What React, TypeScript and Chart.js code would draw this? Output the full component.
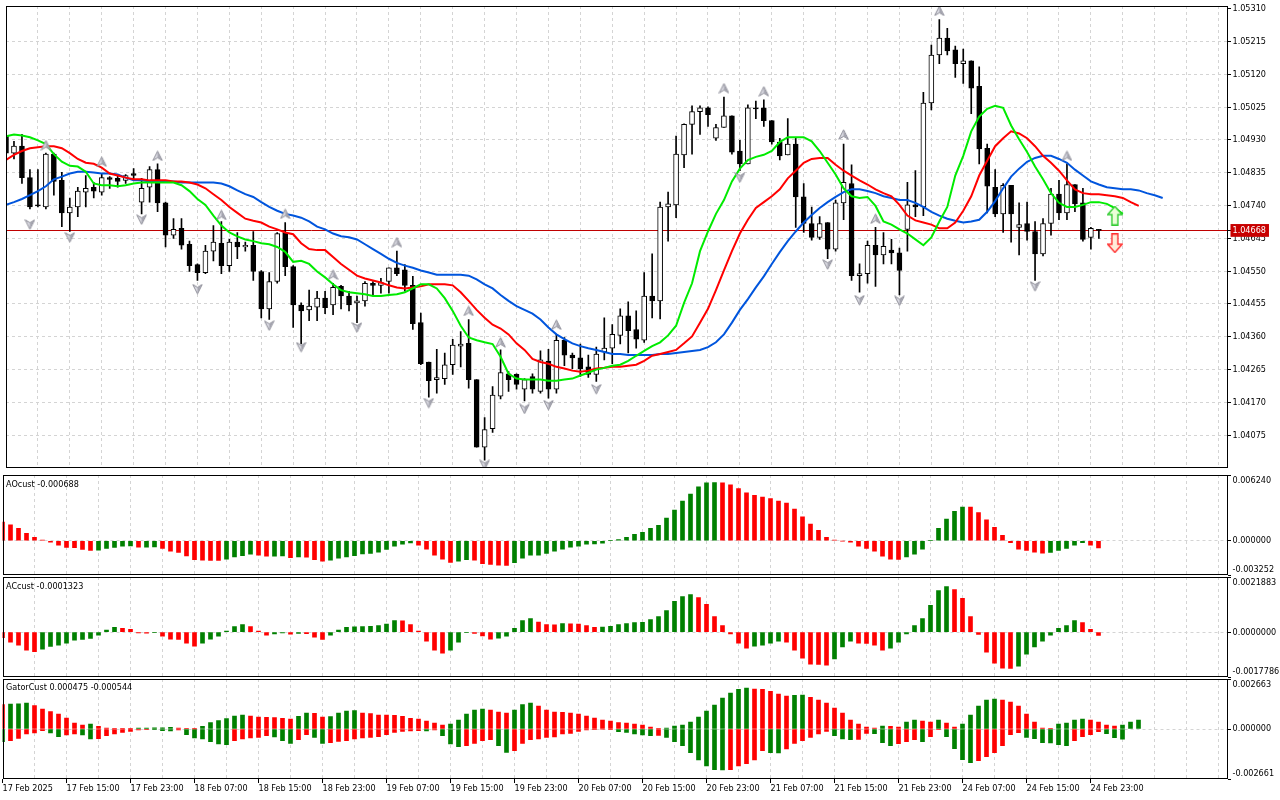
import React, { useEffect, useRef } from 'react';
import { Chart, registerables } from 'chart.js';
Chart.register(...registerables);

// ---------- data ----------
const X_LABELS = ['17 Feb 2025', '17 Feb 15:00', '17 Feb 23:00', '18 Feb 07:00', '18 Feb 15:00', '18 Feb 23:00',
  '19 Feb 07:00', '19 Feb 15:00', '19 Feb 23:00', '20 Feb 07:00', '20 Feb 15:00', '20 Feb 23:00',
  '21 Feb 07:00', '21 Feb 15:00', '21 Feb 23:00', '24 Feb 07:00', '24 Feb 15:00', '24 Feb 23:00'];

const PRICE_TICKS = [1.05310, 1.05215, 1.05120, 1.05025, 1.04930, 1.04835, 1.04740, 1.04645, 1.04550, 1.04455, 1.04360, 1.04265, 1.04170, 1.04075];
const BID = 1.04668;

const OPEN = [1.04941,1.04892,1.04912,1.04821,1.04742,1.04736,1.04889,1.04813,1.04719,1.04736,
1.04779,1.04793,1.04779,1.04821,1.04819,1.04813,1.04833,1.04750,1.04793,1.04844,
1.04748,1.04654,1.04674,1.04628,1.04569,1.04546,1.04608,1.04631,1.04566,1.04634,
1.04620,1.04625,1.04549,1.04441,1.04520,1.04662,1.04563,1.04452,1.04438,1.04446,
1.04472,1.04452,1.04506,1.04478,1.04458,1.04464,1.04515,1.04509,1.04520,1.04560,
1.04554,1.04509,1.04401,1.04287,1.04236,1.04239,1.04279,1.04333,1.04341,1.04236,
1.04040,1.04094,1.04188,1.04253,1.04251,1.04208,1.04245,1.04202,1.04290,1.04208,
1.04350,1.04307,1.04299,1.04273,1.04251,1.04316,1.04327,1.04364,1.04421,1.04381,
1.04350,1.04478,1.04464,1.04736,1.04742,1.04887,1.04975,1.05012,1.05023,1.04935,
1.04966,1.05000,1.04898,1.04861,1.05023,1.05023,1.04986,1.04924,1.04887,1.04918,
1.04765,1.04688,1.04648,1.04691,1.04614,1.04748,1.04804,1.04537,1.04543,1.04625,
1.04597,1.04611,1.04603,1.04671,1.04742,1.04736,1.05037,1.05176,1.05225,1.05191,
1.05151,1.05159,1.05085,1.04906,1.04793,1.04716,1.04799,1.04677,1.04688,1.04665,
1.04600,1.04688,1.04773,1.04719,1.04801,1.04748,1.04648,1.04671];

const HIGH = [1.04955,1.04926,1.04946,1.04844,1.04844,1.04892,1.04892,1.04836,1.04762,1.04793,
1.04827,1.04807,1.04833,1.04824,1.04830,1.04830,1.04847,1.04819,1.04853,1.04861,
1.04750,1.04702,1.04702,1.04637,1.04571,1.04625,1.04682,1.04694,1.04642,1.04662,
1.04634,1.04665,1.04552,1.04546,1.04662,1.04691,1.04566,1.04458,1.04495,1.04492,
1.04492,1.04515,1.04509,1.04492,1.04478,1.04520,1.04520,1.04529,1.04560,1.04608,
1.04569,1.04535,1.04429,1.04287,1.04324,1.04313,1.04353,1.04375,1.04410,1.04236,
1.04126,1.04216,1.04322,1.04259,1.04253,1.04239,1.04253,1.04319,1.04324,1.04367,
1.04358,1.04313,1.04339,1.04307,1.04330,1.04415,1.04395,1.04441,1.04461,1.04435,
1.04546,1.04600,1.04750,1.04779,1.04941,1.04977,1.05029,1.05029,1.05026,1.04975,
1.05054,1.05000,1.04929,1.05032,1.05043,1.05046,1.04986,1.04935,1.04992,1.04938,
1.04804,1.04736,1.04708,1.04691,1.04756,1.04918,1.04858,1.04571,1.04637,1.04677,
1.04662,1.04642,1.04617,1.04807,1.04841,1.05068,1.05205,1.05279,1.05253,1.05202,
1.05193,1.05159,1.05142,1.04918,1.04844,1.04804,1.04799,1.04748,1.04750,1.04694,
1.04702,1.04790,1.04813,1.04861,1.04801,1.04790,1.04677,1.04671];

const LOW = [1.04875,1.04875,1.04804,1.04730,1.04736,1.04730,1.04770,1.04679,1.04665,1.04708,
1.04736,1.04762,1.04770,1.04790,1.04793,1.04804,1.04813,1.04716,1.04750,1.04722,
1.04620,1.04645,1.04614,1.04549,1.04523,1.04543,1.04580,1.04543,1.04549,1.04586,
1.04608,1.04523,1.04415,1.04410,1.04515,1.04537,1.04387,1.04339,1.04407,1.04407,
1.04427,1.04424,1.04441,1.04435,1.04401,1.04449,1.04478,1.04486,1.04486,1.04537,
1.04492,1.04381,1.04279,1.04185,1.04197,1.04222,1.04251,1.04273,1.04211,1.04040,
1.04003,1.04083,1.04180,1.04202,1.04208,1.04174,1.04197,1.04197,1.04182,1.04197,
1.04276,1.04268,1.04245,1.04242,1.04231,1.04293,1.04282,1.04339,1.04313,1.04327,
1.04344,1.04415,1.04412,1.04637,1.04705,1.04850,1.04889,1.04946,1.04969,1.04929,
1.04966,1.04889,1.04841,1.04861,1.04992,1.04969,1.04918,1.04872,1.04887,1.04677,
1.04662,1.04640,1.04642,1.04586,1.04608,1.04699,1.04523,1.04489,1.04515,1.04506,
1.04571,1.04571,1.04481,1.04608,1.04708,1.04711,1.05017,1.05151,1.05176,1.05111,
1.05094,1.05006,1.04861,1.04719,1.04708,1.04662,1.04634,1.04597,1.04640,1.04523,
1.04594,1.04654,1.04699,1.04699,1.04722,1.04637,1.04614,1.04645];

const CLOSE = [1.04892,1.04912,1.04821,1.04736,1.04739,1.04889,1.04810,1.04719,1.04736,1.04782,
1.04790,1.04782,1.04821,1.04816,1.04810,1.04827,1.04827,1.04790,1.04844,1.04748,
1.04654,1.04671,1.04625,1.04566,1.04546,1.04608,1.04634,1.04566,1.04634,1.04620,
1.04625,1.04549,1.04441,1.04520,1.04659,1.04563,1.04452,1.04435,1.04449,1.04472,
1.04444,1.04503,1.04478,1.04452,1.04464,1.04515,1.04509,1.04517,1.04560,1.04543,
1.04509,1.04398,1.04282,1.04233,1.04242,1.04279,1.04336,1.04339,1.04236,1.04040,
1.04091,1.04191,1.04256,1.04236,1.04222,1.04236,1.04208,1.04293,1.04208,1.04350,
1.04307,1.04299,1.04268,1.04251,1.04310,1.04327,1.04367,1.04421,1.04378,1.04353,
1.04478,1.04464,1.04736,1.04745,1.04889,1.04975,1.05012,1.05023,1.05003,1.04966,
1.05000,1.04895,1.04861,1.05023,1.05020,1.04986,1.04924,1.04884,1.04918,1.04765,
1.04688,1.04648,1.04688,1.04614,1.04748,1.04807,1.04537,1.04543,1.04625,1.04597,
1.04622,1.04603,1.04552,1.04742,1.04736,1.05037,1.05176,1.05225,1.05188,1.05151,
1.05159,1.05080,1.04904,1.04796,1.04716,1.04799,1.04716,1.04685,1.04665,1.04600,
1.04688,1.04773,1.04719,1.04801,1.04745,1.04642,1.04674,1.04668];

// Alligator lines (jaw / teeth / lips), shifted into the future
const JAW = [1.04742,1.04750,1.04759,1.04770,1.04782,1.04796,1.04816,1.04824,1.04833,1.04838,
1.04838,1.04836,1.04833,1.04833,1.04830,1.04821,1.04813,1.04813,1.04810,1.04810,
1.04810,1.04810,1.04807,1.04807,1.04807,1.04807,1.04807,1.04804,1.04796,1.04784,
1.04773,1.04765,1.04750,1.04736,1.04725,1.04716,1.04711,1.04705,1.04694,1.04679,
1.04671,1.04659,1.04651,1.04648,1.04642,1.04628,1.04614,1.04600,1.04586,1.04574,
1.04566,1.04560,1.04552,1.04546,1.04540,1.04540,1.04540,1.04540,1.04537,1.04526,
1.04512,1.04500,1.04481,1.04464,1.04449,1.04438,1.04427,1.04410,1.04387,1.04367,
1.04353,1.04341,1.04333,1.04327,1.04322,1.04316,1.04310,1.04310,1.04307,1.04307,
1.04307,1.04307,1.04310,1.04310,1.04313,1.04316,1.04319,1.04322,1.04330,1.04344,
1.04367,1.04401,1.04438,1.04469,1.04503,1.04535,1.04571,1.04605,1.04637,1.04665,
1.04691,1.04713,1.04733,1.04750,1.04765,1.04779,1.04787,1.04787,1.04782,1.04776,
1.04767,1.04762,1.04756,1.04756,1.04748,1.04736,1.04722,1.04711,1.04702,1.04696,
1.04691,1.04694,1.04699,1.04722,1.04753,1.04790,1.04824,1.04847,1.04867,1.04878,
1.04884,1.04884,1.04875,1.04864,1.04844,1.04827,1.04810,1.04801,1.04793,1.04790,
1.04787,1.04787,1.04784,1.04776,1.04770,1.04762];

const TEETH = [1.04872,1.04887,1.04898,1.04906,1.04909,1.04912,1.04912,1.04906,1.04892,1.04875,
1.04864,1.04861,1.04850,1.04833,1.04827,1.04821,1.04816,1.04816,1.04813,1.04813,
1.04813,1.04810,1.04810,1.04807,1.04801,1.04790,1.04773,1.04756,1.04736,1.04719,
1.04702,1.04696,1.04691,1.04679,1.04671,1.04662,1.04657,1.04631,1.04614,1.04611,
1.04611,1.04591,1.04571,1.04554,1.04537,1.04529,1.04523,1.04517,1.04509,1.04503,
1.04500,1.04503,1.04506,1.04512,1.04512,1.04512,1.04509,1.04489,1.04464,1.04438,
1.04415,1.04395,1.04384,1.04367,1.04341,1.04322,1.04296,1.04287,1.04282,1.04273,
1.04268,1.04262,1.04259,1.04262,1.04268,1.04270,1.04273,1.04273,1.04276,1.04279,
1.04290,1.04305,1.04310,1.04316,1.04322,1.04341,1.04361,1.04401,1.04441,1.04495,
1.04552,1.04608,1.04659,1.04699,1.04733,1.04750,1.04767,1.04787,1.04819,1.04841,
1.04864,1.04875,1.04878,1.04878,1.04858,1.04841,1.04827,1.04813,1.04801,1.04787,
1.04776,1.04767,1.04742,1.04711,1.04697,1.04691,1.04685,1.04674,1.04674,1.04691,
1.04725,1.04767,1.04827,1.04870,1.04912,1.04935,1.04955,1.04949,1.04935,1.04912,
1.04884,1.04864,1.04841,1.04813,1.04787,1.04776,1.04773,1.04773,1.04770,1.04767,
1.04762,1.04750,1.04739];

const LIPS = [1.04941,1.04946,1.04943,1.04938,1.04929,1.04918,1.04889,1.04867,1.04855,1.04853,
1.04838,1.04804,1.04799,1.04799,1.04796,1.04799,1.04804,1.04807,1.04807,1.04807,
1.04807,1.04807,1.04799,1.04782,1.04759,1.04742,1.04711,1.04682,1.04662,1.04651,
1.04642,1.04637,1.04631,1.04628,1.04620,1.04606,1.04577,1.04580,1.04571,1.04549,
1.04532,1.04512,1.04495,1.04489,1.04486,1.04483,1.04478,1.04478,1.04481,1.04483,
1.04489,1.04500,1.04512,1.04512,1.04500,1.04472,1.04435,1.04392,1.04358,1.04350,
1.04344,1.04339,1.04302,1.04253,1.04239,1.04236,1.04236,1.04236,1.04233,1.04233,
1.04236,1.04239,1.04248,1.04256,1.04265,1.04270,1.04276,1.04279,1.04290,1.04305,
1.04319,1.04333,1.04344,1.04364,1.04392,1.04458,1.04515,1.04608,1.04665,1.04716,
1.04756,1.04810,1.04847,1.04872,1.04881,1.04887,1.04898,1.04924,1.04938,1.04938,
1.04938,1.04926,1.04898,1.04864,1.04830,1.04790,1.04767,1.04762,1.04765,1.04739,
1.04694,1.04685,1.04671,1.04659,1.04642,1.04625,1.04648,1.04694,1.04736,1.04827,
1.04884,1.04955,1.04998,1.05020,1.05029,1.05023,1.04972,1.04932,1.04895,1.04853,
1.04816,1.04776,1.04748,1.04736,1.04736,1.04742,1.04750,1.04750,1.04745,1.04733,
1.04716];

const FRACTAL_UP_BARS = [5, 12, 19, 27, 35, 41, 49, 58, 62, 69, 90, 95, 105, 109, 117, 133];
const FRACTAL_UP_PRICES = [1.04915, 1.04867, 1.04884, 1.04713, 1.04716, 1.04540, 1.04634, 1.04435, 1.04344, 1.04395, 1.05080, 1.05071, 1.04946, 1.04702, 1.05304, 1.04884];
const FRACTAL_DN_BARS = [3, 8, 17, 24, 33, 37, 44, 53, 60, 65, 68, 74, 92, 103, 107, 112, 129];
const FRACTAL_DN_PRICES = [1.04685, 1.04648, 1.04699, 1.04498, 1.04392, 1.04330, 1.04387, 1.04168, 1.03989, 1.04151, 1.04162, 1.04208, 1.04821, 1.04569, 1.04466, 1.04464, 1.04506];

const SIGNAL_UP_BARS = [139];
const SIGNAL_UP_PRICES = [1.04711];
const SIGNAL_DN_BARS = [139];
const SIGNAL_DN_PRICES = [1.04631];

const AO = [0.00176,0.00150,0.00118,0.00070,0.00032,0.00006,-0.00013,-0.00042,-0.00064,-0.00066,
-0.00083,-0.00093,-0.00090,-0.00074,-0.00064,-0.00051,-0.00050,-0.00061,-0.00060,-0.00059,
-0.00074,-0.00099,-0.00112,-0.00144,-0.00179,-0.00185,-0.00186,-0.00187,-0.00176,-0.00153,
-0.00141,-0.00128,-0.00137,-0.00147,-0.00146,-0.00145,-0.00160,-0.00154,-0.00157,-0.00179,
-0.00195,-0.00185,-0.00166,-0.00153,-0.00141,-0.00125,-0.00121,-0.00109,-0.00083,-0.00051,
-0.00032,-0.00020,-0.00042,-0.00080,-0.00137,-0.00176,-0.00205,-0.00195,-0.00179,-0.00185,
-0.00217,-0.00224,-0.00233,-0.00234,-0.00208,-0.00166,-0.00137,-0.00136,-0.00121,-0.00099,
-0.00080,-0.00061,-0.00051,-0.00032,-0.00031,-0.00022,0.00002,0.00010,0.00032,0.00061,
0.00080,0.00118,0.00147,0.00214,0.00291,0.00377,0.00444,0.00511,0.00550,0.00552,
0.00549,0.00531,0.00495,0.00454,0.00431,0.00415,0.00400,0.00377,0.00358,0.00300,
0.00227,0.00157,0.00099,0.00032,0.00006,-0.00003,-0.00013,-0.00051,-0.00074,-0.00099,
-0.00147,-0.00176,-0.00177,-0.00153,-0.00128,-0.00080,0.00003,0.00118,0.00205,0.00278,
0.00320,0.00319,0.00268,0.00198,0.00128,0.00051,-0.00019,-0.00080,-0.00093,-0.00109,
-0.00118,-0.00112,-0.00093,-0.00074,-0.00042,-0.00019,-0.00042,-0.000688];

const AC = [-0.00022,-0.00040,-0.00052,-0.00071,-0.00077,-0.00067,-0.00057,-0.00052,-0.00044,-0.00032,
-0.00029,-0.00025,-0.00012,0.00008,0.00019,0.00015,0.00011,-0.00003,-0.00004,-0.00002,
-0.00016,-0.00028,-0.00029,-0.00044,-0.00056,-0.00044,-0.00028,-0.00016,0.00004,0.00022,
0.00030,0.00022,0.00004,-0.00012,-0.00007,-0.00003,-0.00008,-0.00005,-0.00006,-0.00020,
-0.00029,-0.00012,0.00008,0.00019,0.00021,0.00022,0.00023,0.00026,0.00032,0.00046,
0.00045,0.00030,0.00004,-0.00036,-0.00071,-0.00083,-0.00071,-0.00040,-0.00002,-0.00005,
-0.00015,-0.00028,-0.00024,-0.00016,0.00015,0.00046,0.00054,0.00040,0.00030,0.00029,
0.00034,0.00033,0.00032,0.00026,0.00019,0.00020,0.00023,0.00030,0.00034,0.00038,
0.00039,0.00050,0.00062,0.00086,0.00122,0.00141,0.00149,0.00137,0.00110,0.00062,
0.00026,-0.00007,-0.00044,-0.00063,-0.00056,-0.00052,-0.00044,-0.00036,-0.00040,-0.00071,
-0.00103,-0.00127,-0.00128,-0.00131,-0.00106,-0.00059,-0.00036,-0.00044,-0.00045,-0.00052,
-0.00071,-0.00063,-0.00040,-0.00007,0.00026,0.00054,0.00106,0.00165,0.00181,0.00169,
0.00134,0.00062,-0.00009,-0.00079,-0.00123,-0.00143,-0.00144,-0.00135,-0.00087,-0.00059,
-0.00036,-0.00012,0.00015,0.00026,0.00046,0.00038,0.00011,-0.0001323];

const GATOR_UP = [0.001296,0.001331,0.00134,0.001385,0.001243,0.001065,0.000923,0.000799,0.000586,0.000320,
0.000213,0.000266,0.000142,0.000053,0.000036,0.000018,0.000005,0.000053,0.000055,0.000058,
0.000060,0.000089,0.000053,0.000018,0.000005,0.000142,0.000337,0.000444,0.000550,0.000692,
0.000746,0.000692,0.000639,0.000621,0.000604,0.000568,0.000533,0.000675,0.000852,0.000834,
0.000639,0.000657,0.000852,0.000959,0.000976,0.000852,0.000817,0.000746,0.000740,0.000728,
0.000675,0.000568,0.000533,0.000426,0.000320,0.000213,0.000266,0.000479,0.000799,0.001012,
0.001065,0.001012,0.000905,0.000852,0.001012,0.001296,0.001385,0.001225,0.001012,0.000905,
0.000888,0.000852,0.000799,0.000692,0.000586,0.000479,0.000426,0.000337,0.000320,0.000266,
0.000213,0.000107,0.000018,0.000053,0.000160,0.000213,0.000373,0.000639,0.000959,0.001278,
0.001651,0.001917,0.002112,0.002183,0.002130,0.002112,0.002006,0.001864,0.001757,0.001793,
0.001811,0.001686,0.001544,0.001385,0.001118,0.000852,0.000479,0.000266,0.000107,0.000053,
0.000160,0.000142,0.000107,0.000373,0.000479,0.000426,0.000373,0.000479,0.000320,0.000107,
0.000266,0.000746,0.001225,0.001544,0.001598,0.001544,0.001438,0.001225,0.000799,0.000373,
0.000053,0.000018,0.000266,0.000320,0.000479,0.000533,0.000479,0.000373,0.000213,0.000160,
0.000213,0.000373,0.000475];

const GATOR_DN = [-0.000675,-0.000621,-0.000497,-0.000266,-0.000213,-0.000089,-0.000213,-0.000408,-0.000320,-0.000266,
-0.000320,-0.000533,-0.000515,-0.000355,-0.000266,-0.000178,-0.000124,-0.000053,-0.000018,-0.000036,
-0.000089,-0.000107,-0.000053,-0.000302,-0.000479,-0.000533,-0.000675,-0.000799,-0.000834,-0.000621,
-0.000533,-0.000479,-0.000444,-0.000355,-0.000426,-0.000621,-0.000763,-0.000568,-0.000302,-0.000444,
-0.000763,-0.000728,-0.000657,-0.000621,-0.000533,-0.000479,-0.000444,-0.000408,-0.000302,-0.000178,
-0.000124,-0.000107,-0.000089,-0.000107,-0.000053,-0.000355,-0.000799,-0.000941,-0.000888,-0.000763,
-0.000621,-0.000568,-0.000888,-0.001243,-0.001154,-0.000763,-0.000568,-0.000533,-0.000444,-0.000426,
-0.000266,-0.000231,-0.000124,-0.000053,-0.000036,-0.000027,-0.000018,-0.000142,-0.000178,-0.000266,
-0.000320,-0.000355,-0.000337,-0.000444,-0.000675,-0.000888,-0.001260,-0.001651,-0.001970,-0.002166,
-0.002183,-0.002166,-0.001970,-0.001846,-0.001651,-0.001154,-0.001260,-0.001278,-0.001065,-0.000763,
-0.000621,-0.000444,-0.000266,-0.000124,-0.000355,-0.000533,-0.000568,-0.000550,-0.000231,-0.000249,
-0.000728,-0.000888,-0.000781,-0.000675,-0.000568,-0.000675,-0.000408,-0.000036,-0.000408,-0.001047,
-0.001633,-0.001793,-0.001686,-0.001473,-0.001260,-0.000888,-0.000302,-0.000195,-0.000444,-0.000515,
-0.000728,-0.000746,-0.000834,-0.000888,-0.000621,-0.000408,-0.000302,-0.000142,-0.000249,-0.000462,
-0.000544];

const AO_RANGE = [-0.003252, 0.006240];
const AC_RANGE = [-0.0017786, 0.0021883];
const GATOR_RANGE = [-0.002661, 0.002663];

// ---------- styling ----------
const PRICE_MIN = 1.03980;
const PRICE_MAX = 1.05318;
const X_MAX = 153.125;
const AXIS_W = 52.5;
const FAMILY = "'DejaVu Sans Condensed', 'Liberation Sans', sans-serif";
const FONT = { family: FAMILY, size: 9 };
const GRID = 'rgb(212,212,212)';
const UPC = '#008000';
const DNC = '#ff0000';

Chart.defaults.font.family = FAMILY;
Chart.defaults.font.size = 9;
Chart.defaults.color = '#000';

const framePlugin = {
  id: 'mtframe',
  afterDatasetsDraw(chart: any) {
    const { ctx, chartArea: a } = chart;
    ctx.save();
    ctx.strokeStyle = '#000';
    ctx.lineWidth = 1;
    const l = Math.round(a.left), t = Math.round(a.top), r = Math.round(a.right), b = Math.round(a.bottom);
    ctx.strokeRect(l + 0.5, t + 0.5, r - l - 1, b - t - 1);
    ctx.restore();
  },
};

function noPad(s: any) {
  s.paddingTop = 0;
  s.paddingBottom = 0;
  s.paddingLeft = 0;
  s.paddingRight = 0;
}

function histColors(vals: number[], first: string, useAbs = false) {
  return vals.map((v, i) => {
    if (i === 0) return first;
    const a = useAbs ? Math.abs(v) : v;
    const b = useAbs ? Math.abs(vals[i - 1]) : vals[i - 1];
    return a > b ? UPC : DNC;
  });
}

function xScale(bottom: boolean) {
  return {
    type: 'linear',
    min: 0,
    max: X_MAX,
    offset: false,
    afterBuildTicks: (s: any) => {
      const t: any[] = [];
      for (let v = 0; v <= 152; v += 4) t.push({ value: v });
      s.ticks = t;
    },
    afterFit: (s: any) => { s.height = bottom ? 21 : 0; noPad(s); },
    ticks: {
      display: bottom,
      autoSkip: false,
      maxRotation: 0,
      minRotation: 0,
      align: 'start',
      padding: 0.5,
      color: '#000',
      font: FONT,
      callback: (v: any) => {
        const n = Number(v);
        return n % 8 === 0 && X_LABELS[n / 8] ? X_LABELS[n / 8] : '';
      },
    },
    grid: {
      display: true,
      offset: false,
      color: (c: any) => (c.tick && c.tick.value > 0 ? GRID : 'rgba(0,0,0,0)'),
      lineWidth: 1,
      drawTicks: bottom,
      tickLength: 4,
      tickColor: (c: any) => (c.tick && c.tick.value % 8 === 0 && c.tick.value <= 136 ? '#000' : 'rgba(0,0,0,0)'),
    },
    border: { display: false, dash: [3, 3] },
  };
}

function subY(range: number[], decimals: number) {
  const [mn, mx] = range;
  return {
    position: 'right',
    min: mn,
    max: mx,
    beginAtZero: false,
    afterBuildTicks: (s: any) => { s.ticks = [{ value: mx }, { value: 0 }, { value: mn }]; },
    afterFit: (s: any) => { s.width = AXIS_W; noPad(s); },
    ticks: {
      autoSkip: false,
      padding: 1.5,
      color: '#000',
      font: { ...FONT, lineHeight: 1.25 },
      callback: (v: any) => {
        const n = Number(v);
        const txt = n.toFixed(decimals);
        if (n === mx) return ['', txt];
        if (n === mn) return [txt, ''];
        return txt;
      },
    },
    grid: {
      color: (c: any) => (c.tick && c.tick.value === 0 ? GRID : 'rgba(0,0,0,0)'),
      drawTicks: true,
      tickLength: 3.5,
      tickColor: '#000',
    },
    border: { display: false, dash: [3, 3] },
  };
}

function makeImg(w: number, h: number, draw: (g: CanvasRenderingContext2D) => void) {
  const c = document.createElement('canvas');
  c.width = w;
  c.height = h;
  const g = c.getContext('2d') as CanvasRenderingContext2D;
  draw(g);
  return c;
}

function baseOptions(scales: any, padTop: number, padBottom: number) {
  return {
    responsive: false,
    maintainAspectRatio: false,
    animation: false,
    events: [],
    layout: { padding: { left: 2.5, right: 0, top: padTop, bottom: padBottom } },
    plugins: { legend: { display: false }, tooltip: { enabled: false }, title: { display: false } },
    scales,
  };
}

function histConfig(vals: number[], range: number[], decimals: number) {
  return {
    type: 'bar',
    data: {
      datasets: [{
        data: vals.map((v, i) => ({ x: i, y: v })),
        backgroundColor: histColors(vals, DNC),
        barThickness: 4,
        grouped: false,
        borderWidth: 0,
      }],
    },
    options: baseOptions({ x: xScale(false), y: subY(range, decimals) }, 1, 1),
    plugins: [framePlugin],
  };
}

export default function App() {
  const mainRef = useRef<HTMLCanvasElement>(null);
  const aoRef = useRef<HTMLCanvasElement>(null);
  const acRef = useRef<HTMLCanvasElement>(null);
  const gatorRef = useRef<HTMLCanvasElement>(null);

  useEffect(() => {
    const fracUp = makeImg(11, 11, (g) => {
      g.beginPath(); g.moveTo(5.5, 0.8); g.lineTo(10.2, 10.2); g.lineTo(5.5, 7.4); g.lineTo(0.8, 10.2); g.closePath();
      g.fillStyle = '#dcdce4'; g.fill();
      g.strokeStyle = '#8c8c96'; g.lineWidth = 1; g.stroke();
      g.beginPath(); g.moveTo(5.5, 1.5); g.lineTo(9.5, 9.6); g.lineTo(5.5, 7.2); g.closePath();
      g.fillStyle = '#a4a4ae'; g.fill();
    });
    const fracDn = makeImg(11, 11, (g) => {
      g.beginPath(); g.moveTo(5.5, 10.2); g.lineTo(10.2, 0.8); g.lineTo(5.5, 3.6); g.lineTo(0.8, 0.8); g.closePath();
      g.fillStyle = '#dcdce4'; g.fill();
      g.strokeStyle = '#8c8c96'; g.lineWidth = 1; g.stroke();
      g.beginPath(); g.moveTo(5.5, 9.5); g.lineTo(9.5, 1.4); g.lineTo(5.5, 3.8); g.closePath();
      g.fillStyle = '#a4a4ae'; g.fill();
    });
    const sigUp = makeImg(16, 20, (g) => {
      g.beginPath();
      g.moveTo(8, 0.8); g.lineTo(15.2, 9); g.lineTo(11, 9); g.lineTo(11, 19.2); g.lineTo(5, 19.2); g.lineTo(5, 9); g.lineTo(0.8, 9); g.closePath();
      g.fillStyle = 'rgba(235,255,215,0.95)'; g.fill();
      g.strokeStyle = '#33cc33'; g.lineWidth = 1.4; g.stroke();
    });
    const sigDn = makeImg(16, 20, (g) => {
      g.beginPath();
      g.moveTo(8, 19.2); g.lineTo(15.2, 11); g.lineTo(11, 11); g.lineTo(11, 0.8); g.lineTo(5, 0.8); g.lineTo(5, 11); g.lineTo(0.8, 11); g.closePath();
      g.fillStyle = 'rgba(255,235,215,0.95)'; g.fill();
      g.strokeStyle = '#ff3030'; g.lineWidth = 1.4; g.stroke();
    });

    const idx = OPEN.map((_, i) => i);
    const lineDs = (vals: number[], color: string, order: number) => ({
      type: 'line',
      data: vals.map((v, i) => ({ x: i, y: v })),
      borderColor: color,
      borderWidth: 2,
      pointRadius: 0,
      tension: 0,
      fill: false,
      order,
    });
    const markerDs = (bars: number[], prices: number[], img: any) => ({
      type: 'line',
      showLine: false,
      data: bars.map((b, k) => ({ x: b, y: prices[k] })),
      pointStyle: img,
      pointRadius: 5,
      order: 0,
    });

    const mainCfg: any = {
      type: 'bar',
      data: {
        datasets: [
          {
            type: 'bar',
            data: idx.map((i) => ({ x: i, y: [LOW[i], HIGH[i]] })),
            backgroundColor: '#000',
            borderWidth: 0,
            barThickness: 1,
            grouped: false,
            order: 6,
          },
          {
            type: 'bar',
            data: idx.map((i) => ({ x: i, y: [OPEN[i], CLOSE[i]] })),
            backgroundColor: idx.map((i) => (CLOSE[i] > OPEN[i] ? '#ffffff' : '#000000')),
            borderColor: '#000',
            borderWidth: 1,
            borderSkipped: false,
            barThickness: 5,
            minBarLength: 1,
            grouped: false,
            order: 5,
          },
          lineDs(JAW, 'rgb(0,85,221)', 4),
          lineDs(TEETH, 'rgb(255,0,0)', 3),
          lineDs(LIPS, 'rgb(0,235,0)', 2),
          markerDs(FRACTAL_UP_BARS, FRACTAL_UP_PRICES, fracUp),
          markerDs(FRACTAL_DN_BARS, FRACTAL_DN_PRICES, fracDn),
          markerDs(SIGNAL_UP_BARS, SIGNAL_UP_PRICES, sigUp),
          markerDs(SIGNAL_DN_BARS, SIGNAL_DN_PRICES, sigDn),
        ],
      },
      options: baseOptions({
        x: xScale(false),
        y: {
          position: 'right',
          min: PRICE_MIN,
          max: PRICE_MAX,
          beginAtZero: false,
          afterBuildTicks: (s: any) => {
            s.ticks = [...PRICE_TICKS.map((v) => ({ value: v })), { value: BID }];
          },
          afterFit: (s: any) => { s.width = AXIS_W; noPad(s); },
          ticks: {
            autoSkip: false,
            padding: 1.5,
            font: FONT,
            callback: (v: any) => Number(v).toFixed(5),
            color: (c: any) => (c.tick && c.tick.value === BID ? '#ffffff' : '#000000'),
            showLabelBackdrop: (c: any) => !!(c.tick && c.tick.value === BID),
            backdropColor: '#c80000',
            backdropPadding: { top: 1, bottom: 1, left: 2, right: 3 },
          },
          grid: {
            color: (c: any) => {
              if (!c.tick) return GRID;
              if (c.tick.value === BID) return '#c00000';
              return c.index === 0 ? 'rgba(0,0,0,0)' : GRID;
            },
            drawTicks: true,
            tickLength: 3.5,
            tickColor: '#000',
          },
          border: { display: false, dash: (c: any) => (c.tick && c.tick.value === BID ? [] : [3, 3]) },
        },
      }, 2, 1),
      plugins: [framePlugin],
    };

    const gatorCfg: any = {
      type: 'bar',
      data: {
        datasets: [
          {
            data: GATOR_UP.map((v, i) => ({ x: i, y: v })),
            backgroundColor: histColors(GATOR_UP, DNC),
            barThickness: 4,
            grouped: false,
            borderWidth: 0,
          },
          {
            data: GATOR_DN.map((v, i) => ({ x: i, y: v })),
            backgroundColor: histColors(GATOR_DN, UPC, true),
            barThickness: 4,
            grouped: false,
            borderWidth: 0,
          },
        ],
      },
      options: baseOptions({ x: xScale(true), y: subY(GATOR_RANGE, 6) }, 1, 0),
      plugins: [framePlugin],
    };

    const charts = [
      new Chart(mainRef.current as any, mainCfg),
      new Chart(aoRef.current as any, histConfig(AO, AO_RANGE, 6) as any),
      new Chart(acRef.current as any, histConfig(AC, AC_RANGE, 7) as any),
      new Chart(gatorRef.current as any, gatorCfg),
    ];
    return () => charts.forEach((c) => c.destroy());
  }, []);

  const titleStyle = (top: number): React.CSSProperties => ({
    position: 'absolute',
    left: 6,
    top,
    fontFamily: FAMILY,
    fontSize: 9,
    lineHeight: '11px',
    color: '#000',
    whiteSpace: 'nowrap',
  });

  return (
    <div style={{ position: 'absolute', left: 0, top: 0, width: 1280, height: 800, background: '#fff', overflow: 'hidden' }}>
      <canvas ref={mainRef} width={1280} height={474} style={{ position: 'absolute', left: 0, top: 0 }} />
      <canvas ref={aoRef} width={1280} height={102} style={{ position: 'absolute', left: 0, top: 474 }} />
      <canvas ref={acRef} width={1280} height={102} style={{ position: 'absolute', left: 0, top: 576 }} />
      <canvas ref={gatorRef} width={1280} height={122} style={{ position: 'absolute', left: 0, top: 678 }} />
      <div style={titleStyle(479)}>AOcust -0.000688</div>
      <div style={titleStyle(581)}>ACcust -0.0001323</div>
      <div style={titleStyle(682)}>GatorCust 0.000475 -0.000544</div>
    </div>
  );
}
